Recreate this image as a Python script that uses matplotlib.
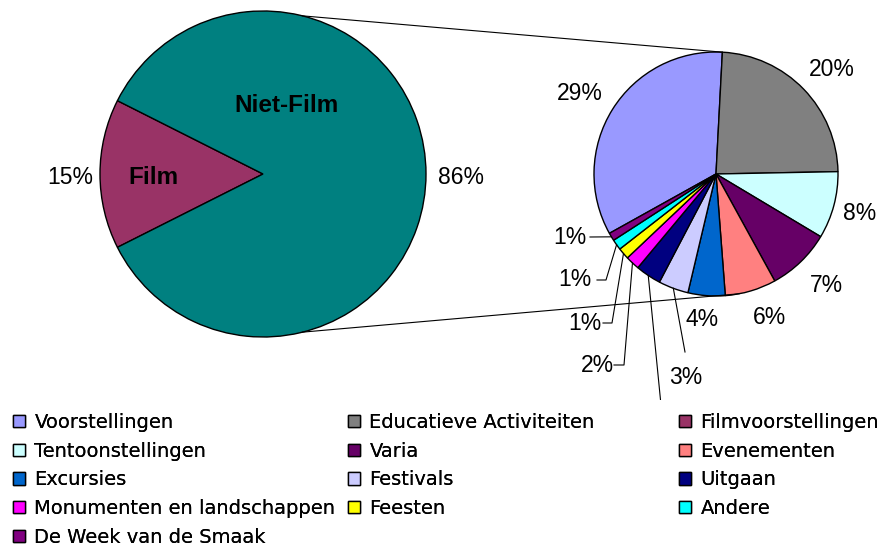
import numpy as np
import matplotlib
matplotlib.use('Agg')
import matplotlib.pyplot as plt
from matplotlib.patches import Patch

# first pie: film vs the rest (percent of all activities)
main_labels = ['Film', 'Niet-Film']
main_values = [15, 86]
main_colors = ['#993366', '#008080']

# second pie: breakdown of Niet-Film (percent of all activities)
detail_labels = ['Voorstellingen', 'Educatieve Activiteiten', 'Tentoonstellingen', 'Varia',
                 'Evenementen', 'Excursies', 'Festivals', 'Uitgaan',
                 'Monumenten en landschappen', 'Feesten', 'Andere', 'De Week van de Smaak']
detail_values = [29.0, 20.4, 7.6, 7.2, 5.8, 4.2, 3.4, 2.9, 1.6, 1.3, 1.2, 0.9]
detail_colors = ['#9999FF', '#808080', '#CCFFFF', '#660066', '#FF8080', '#0066CC',
                 '#CCCCFF', '#000080', '#FF00FF', '#FFFF00', '#00FFFF', '#800080']

# legend, in the order of the original sheet
legend_labels = ['Voorstellingen', 'Educatieve Activiteiten', 'Filmvoorstellingen',
                 'Tentoonstellingen', 'Varia', 'Evenementen',
                 'Excursies', 'Festivals', 'Uitgaan',
                 'Monumenten en landschappen', 'Feesten', 'Andere',
                 'De Week van de Smaak']
legend_colors = ['#9999FF', '#808080', '#993366',
                 '#CCFFFF', '#660066', '#FF8080',
                 '#0066CC', '#CCCCFF', '#000080',
                 '#FF00FF', '#FFFF00', '#00FFFF',
                 '#800080']

W, H = 883, 548


def py(y):
    # picture y (from top) -> data y (from bottom)
    return H - y


fig = plt.figure(figsize=(W / 100, H / 100), dpi=100)
ax = fig.add_axes([0, 148 / H, 1, 400 / H])

font = 'Liberation Sans'
lbl_size = 16.5

# left pie
lc, lr = (263, py(174)), 163
film_frac = main_values[0] / sum(main_values)
wl, _ = ax.pie(main_values, colors=main_colors, center=lc, radius=lr,
               startangle=180 - 180 * film_frac, counterclock=True,
               wedgeprops=dict(edgecolor='black', linewidth=1))

ax.text(70, py(177), f'{main_values[0]}%', ha='center', va='center', fontsize=lbl_size, family=font)
ax.text(461, py(177), f'{main_values[1]}%', ha='center', va='center', fontsize=lbl_size, family=font)
ax.text(153, py(177), main_labels[0], ha='center', va='center', fontsize=17.5,
        family=font, weight='bold')
ax.text(286, py(106), main_labels[1], ha='center', va='center', fontsize=17.5,
        family=font, weight='bold')

# right pie
rc, rr = (716, py(174)), 122
total = sum(detail_values)
top_edge = 87
wr, _ = ax.pie(detail_values, colors=detail_colors, center=rc, radius=rr,
               startangle=top_edge + 360 * detail_values[0] / total, counterclock=False,
               wedgeprops=dict(edgecolor='black', linewidth=1))

# label positions in picture pixels, and leader line bends (None = no leader)
label_xy = [(580, 93), (832, 70), (860, 213), (826, 285), (770, 317), (702, 320),
            (686, 377), (662, 422), (597, 366), (585, 324), (575, 280), (570, 237)]
leaders = [None, None, None, None, None, None,
           [(685, 352)],
           [(661, 405)],
           [(624, 365), (614, 365)],
           [(612, 323), (603, 323)],
           [(606, 280), (597, 280)],
           [(590, 237)]]

for w, v, (x, y), lead in zip(wr, detail_values, label_xy, leaders):
    ax.text(x, py(y), f'{v:.0f}%', ha='center', va='center', fontsize=lbl_size,
            family=font, clip_on=True)
    if lead is not None:
        mid = np.deg2rad((w.theta1 + w.theta2) / 2)
        xs = [rc[0] + rr * np.cos(mid)] + [p[0] for p in lead]
        ys = [rc[1] + rr * np.sin(mid)] + [py(p[1]) for p in lead]
        ax.plot(xs, ys, color='black', lw=0.8, clip_on=True)

# connector lines between the pies
for a_left, a_right in [(76, 87), (-76, -79)]:
    p1 = (lc[0] + lr * np.cos(np.deg2rad(a_left)), lc[1] + lr * np.sin(np.deg2rad(a_left)))
    p2 = (rc[0] + rr * np.cos(np.deg2rad(a_right)), rc[1] + rr * np.sin(np.deg2rad(a_right)))
    ax.plot([p1[0], p2[0]], [p1[1], p2[1]], color='black', lw=0.8)

ax.set_xlim(0, W)
ax.set_ylim(148, H)
ax.set_aspect('auto')
ax.axis('off')

# legend: three columns, filled row by row
handles = [Patch(facecolor=c, edgecolor='black', linewidth=1) for c in legend_colors]
col_x = [13, 348, 679]
for k in range(3):
    idx = list(range(k, len(legend_labels), 3))
    leg = fig.legend([handles[i] for i in idx], [legend_labels[i] for i in idx],
                     loc='upper left', bbox_to_anchor=(col_x[k] / W, 1 - 413 / H),
                     frameon=False, borderpad=0, borderaxespad=0,
                     prop={'family': 'DejaVu Sans', 'size': 14},
                     handlelength=0.6, handleheight=0.6, handletextpad=0.5,
                     labelspacing=0.5)
    fig.add_artist(leg)

fig.savefig('out.png', dpi=100)
